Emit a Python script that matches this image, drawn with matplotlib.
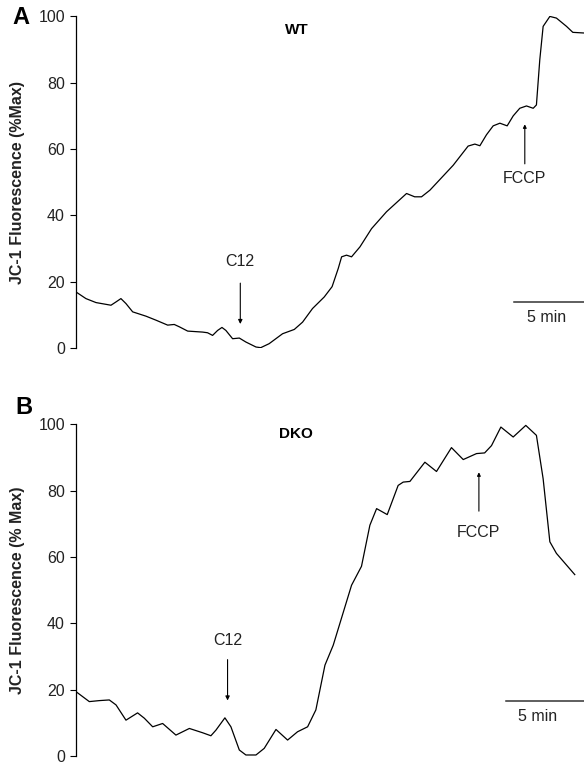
import matplotlib
matplotlib.use("Agg")
import matplotlib.pyplot as plt

plt.rcParams['font.family'] = ['Liberation Sans', 'DejaVu Sans']

# time in minutes, signal in % of max
wt_t = [0, 0.71, 1.43, 2.5, 2.86, 3.21, 3.57, 4.05, 5.0, 5.71, 6.55, 7.02, 7.38, 7.98,
        9.05, 9.4, 9.76, 10.12, 10.43, 10.71, 11.19, 11.67, 12.14, 12.86, 13.2, 13.8,
        14.76, 15.6, 16.19, 16.9, 17.74, 18.3, 18.74, 18.98, 19.33, 19.69, 20.29, 21.12,
        22.19, 23.62, 24.2, 24.69, 25.29, 26.95, 28.02, 28.5, 28.86, 29.33, 29.81,
        30.29, 30.81, 31.24, 31.71, 32.19, 32.67, 32.9, 33.14, 33.38, 33.86, 34.33,
        35.05, 35.5, 36.3]
wt_v = [16.9, 14.9, 13.7, 12.9, 13.9, 14.9, 13.4, 10.9, 9.6, 8.4, 6.9, 7.1, 6.4, 5.1,
        4.8, 4.6, 3.8, 5.3, 6.2, 5.3, 2.8, 3.0, 1.8, 0.3, 0.1, 1.3,
        4.3, 5.6, 7.8, 11.9, 15.4, 18.5, 24.0, 27.5, 28.0, 27.5, 30.5, 36.0,
        41.1, 46.6, 45.6, 45.6, 47.6, 55.1, 60.9, 61.5, 61.0, 64.3, 67.0,
        67.8, 67.0, 70.0, 72.3, 73.0, 72.3, 73.3, 86.9, 97.0, 100.0, 99.5,
        97.0, 95.2, 95.0]

dko_t = [0, 0.95, 1.67, 2.38, 2.86, 3.57, 4.4, 4.88, 5.48, 6.19, 7.14, 8.1, 9.05, 9.64,
         10.0, 10.64, 11.07, 11.67, 12.14, 12.86, 13.45, 14.29, 15.12, 15.83, 16.55,
         17.14, 17.79, 18.38, 19.69, 20.4, 21.0, 21.48, 22.24, 23.02, 23.38, 23.86,
         24.93, 25.76, 26.83, 27.67, 28.62, 29.2, 29.69, 30.36, 31.24, 32.14, 32.9,
         33.38, 33.86, 34.33, 35.64]
dko_v = [19.4, 16.4, 16.7, 16.9, 15.4, 10.8, 13.0, 11.4, 8.8, 9.8, 6.3, 8.3, 7.0, 6.1,
         7.8, 11.5, 8.8, 1.8, 0.3, 0.3, 2.3, 8.0, 4.8, 7.3, 8.8,
         13.9, 27.4, 33.4, 51.5, 57.2, 69.6, 74.6, 72.8, 81.6, 82.6, 82.8,
         88.6, 85.8, 93.0, 89.4, 91.2, 91.4, 93.6, 99.2, 96.2, 99.7, 96.7,
         83.6, 64.6, 61.1, 54.7]

panels = [
    dict(t=wt_t, v=wt_v, name='WT', ylabel='JC-1 Fluorescence (%Max)', letter='A',
         c12=(11.74, 20.4, 6.4, 26.0), fccp=(32.07, 54.7, 68.3, 51.0),
         bar=(31.3, 13.9, 33.6, 9.2), name_xy=(15.8, 96.0), bottom=0.5445),
    dict(t=dko_t, v=dko_v, name='DKO', ylabel='JC-1 Fluorescence (% Max)', letter='B',
         c12=(10.83, 29.9, 15.9, 34.9), fccp=(28.79, 73.0, 86.4, 67.5),
         bar=(30.7, 16.6, 33.0, 12.0), name_xy=(15.7, 97.2), bottom=0.0105),
]

fig = plt.figure(figsize=(5.84, 7.64), dpi=100)
txt = '#222222'
x_end = 36.3

for p in panels:
    ax = fig.add_axes([76/584, p['bottom'], 1 - 76/584, 0.434])
    ax.plot(p['t'], p['v'], color='black', lw=0.9)
    ax.set_xlim(0, x_end)
    ax.set_ylim(0, 100)
    ax.set_yticks([0, 20, 40, 60, 80, 100])
    ax.tick_params(axis='y', length=4, width=0.8, labelsize=11.5, labelcolor=txt, pad=4)
    for s in ['top', 'right', 'bottom']:
        ax.spines[s].set_visible(False)
    ax.spines['left'].set_linewidth(0.9)
    ax.set_xticks([])
    ax.patch.set_alpha(0)
    ax.set_ylabel(p['ylabel'], fontsize=11.5, fontweight='bold', color=txt)
    ax.yaxis.set_label_coords(-0.1, 0.5)

    x, y0, y1, ty = p['c12']
    ax.annotate('', xy=(x, y1), xytext=(x, y0),
                arrowprops=dict(arrowstyle='-|>', lw=0.8, color='black', mutation_scale=6))
    ax.text(x, ty, 'C12', ha='center', va='center', fontsize=11.5, color=txt)

    x, y0, y1, ty = p['fccp']
    ax.annotate('', xy=(x, y1), xytext=(x, y0),
                arrowprops=dict(arrowstyle='-|>', lw=0.8, color='black', mutation_scale=5))
    ax.text(x, ty, 'FCCP', ha='center', va='center', fontsize=11.5, color=txt)

    bx, by, tx, tyy = p['bar']
    ax.plot([bx, x_end], [by, by], color='#333333', lw=1.1, clip_on=False)
    ax.text(tx, tyy, '5 min', ha='center', va='center', fontsize=11.5, color=txt)

    ax.text(p['name_xy'][0], p['name_xy'][1], p['name'], ha='center', va='center',
            fontsize=11, fontweight='bold', color='black')

fig.text(21/584, 1 - 18/764, 'A', ha='center', va='center', fontsize=17, fontweight='bold')
fig.text(24/584, 1 - 408/764, 'B', ha='center', va='center', fontsize=17, fontweight='bold')

fig.savefig('out.png', dpi=100, facecolor='white')
